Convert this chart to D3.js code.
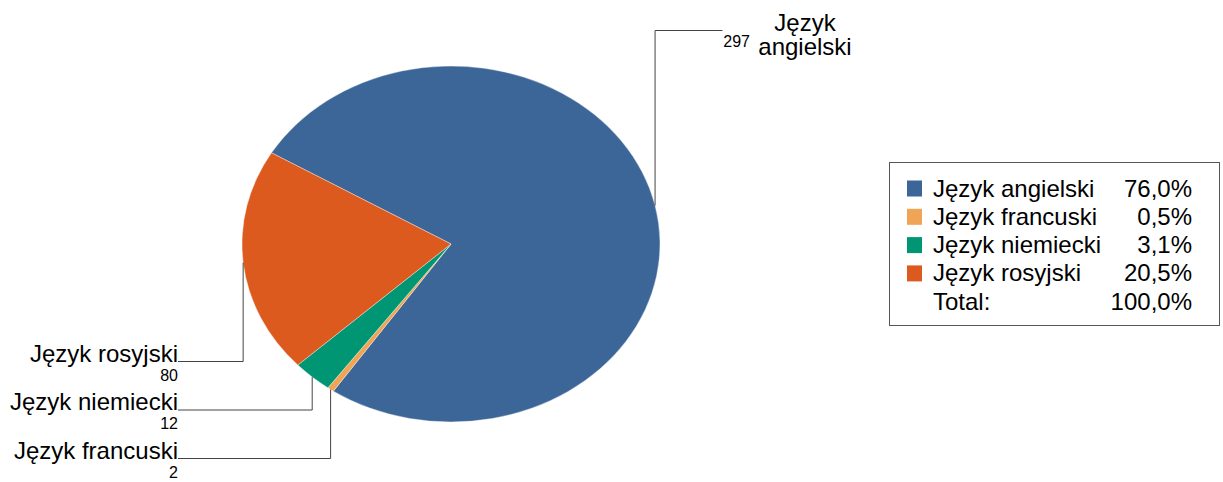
<!DOCTYPE html>
<html>
<head>
<meta charset="utf-8">
<script src="https://cdn.jsdelivr.net/npm/d3@7"></script>
<style>
  body { margin: 0; background: #fff; }
  svg text { font-family: "Liberation Sans", Arial, sans-serif; fill: #000; }
</style>
</head>
<body>
<div id="chart"></div>
<script>
const categories = ["Język angielski", "Język francuski", "Język niemiecki", "Język rosyjski"];
const counts = [297, 2, 12, 80];
const colors = ["#3b6697", "#f0a455", "#009673", "#dd5a1f"];
const percentLabels = ["76,0%", "0,5%", "3,1%", "20,5%"];
const totalLabel = "100,0%";

const width = 1223, height = 482;
const cx = 451, cy = 244, rx = 209, ry = 178;
const startDeg = -59.2;
const fontSize = "24px";

const svg = d3.select("#chart").append("svg")
  .attr("width", width)
  .attr("height", height);

const data = categories.map((c, i) => ({ name: c, value: counts[i], color: colors[i], pct: percentLabels[i] }));

const pie = d3.pie()
  .sort(null)
  .value(d => d.value)
  .startAngle(startDeg * Math.PI / 180)
  .endAngle(startDeg * Math.PI / 180 + 2 * Math.PI);

const arcs = pie(data);
const arc = d3.arc().innerRadius(0).outerRadius(rx);

const pieG = svg.append("g")
  .attr("transform", `translate(${cx},${cy}) scale(1,${ry / rx})`);

pieG.selectAll("path")
  .data(arcs)
  .enter()
  .append("path")
  .attr("d", arc)
  .attr("fill", d => d.data.color)
  .attr("stroke", "#fff")
  .attr("stroke-width", 0.4);

// point on the ellipse edge at the middle of a slice
function edgePoint(d) {
  const a = (d.startAngle + d.endAngle) / 2;
  return [cx + rx * Math.sin(a), cy - ry * Math.cos(a)];
}

const lines = svg.append("g")
  .attr("fill", "none")
  .attr("stroke", "#444")
  .attr("stroke-width", 1);

// left side labels: rosyjski, niemiecki, francuski
const leftLabels = [
  { idx: 3, y: 361.5 },
  { idx: 2, y: 410 },
  { idx: 1, y: 458.5 }
];
const textRight = 178;

leftLabels.forEach(l => {
  const d = arcs[l.idx];
  const [px, py] = edgePoint(d);
  lines.append("path")
    .attr("d", `M${px},${py}V${l.y}H${textRight}`);
  svg.append("text")
    .attr("x", textRight)
    .attr("y", l.y)
    .attr("text-anchor", "end")
    .attr("font-size", fontSize)
    .text(d.data.name);
  svg.append("text")
    .attr("x", textRight)
    .attr("y", l.y + 19)
    .attr("text-anchor", "end")
    .attr("font-size", "16px")
    .text(d.data.value);
});

// angielski label on the top right
{
  const d = arcs[0];
  const [px, py] = edgePoint(d);
  const lineY = 30.5, lineEnd = 722.5;
  lines.append("path")
    .attr("d", `M${px},${py}V${lineY}H${lineEnd}`);
  const words = d.data.name.split(" ");
  svg.append("text")
    .attr("x", 805)
    .attr("y", 31)
    .attr("text-anchor", "middle")
    .attr("font-size", fontSize)
    .text(words[0]);
  svg.append("text")
    .attr("x", 805)
    .attr("y", 55)
    .attr("text-anchor", "middle")
    .attr("font-size", fontSize)
    .text(words[1]);
  svg.append("text")
    .attr("x", 750)
    .attr("y", 47)
    .attr("text-anchor", "end")
    .attr("font-size", "16px")
    .text(d.data.value);
}

// legend
const legend = svg.append("g");
legend.append("rect")
  .attr("x", 889.5)
  .attr("y", 162.5)
  .attr("width", 330)
  .attr("height", 163)
  .attr("fill", "#fff")
  .attr("stroke", "#555")
  .attr("stroke-width", 1);

const rowY = d3.scaleLinear().domain([0, 1]).range([196.5, 224.8]);

data.forEach((d, i) => {
  const y = rowY(i);
  legend.append("rect")
    .attr("x", 907)
    .attr("y", y - 16)
    .attr("width", 15)
    .attr("height", 16)
    .attr("fill", d.color);
  legend.append("text")
    .attr("x", 933)
    .attr("y", y)
    .attr("font-size", fontSize)
    .text(d.name);
  legend.append("text")
    .attr("x", 1192)
    .attr("y", y)
    .attr("text-anchor", "end")
    .attr("font-size", fontSize)
    .text(d.pct);
});

legend.append("text")
  .attr("x", 933)
  .attr("y", rowY(4))
  .attr("font-size", fontSize)
  .text("Total:");
legend.append("text")
  .attr("x", 1192)
  .attr("y", rowY(4))
  .attr("text-anchor", "end")
  .attr("font-size", fontSize)
  .text(totalLabel);
</script>
</body>
</html>
